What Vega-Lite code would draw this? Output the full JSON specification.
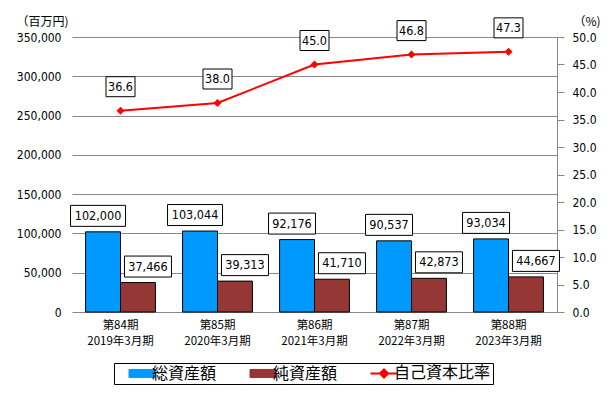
{
  "$schema": "https://vega.github.io/schema/vega-lite/v6.json",
  "width": 485,
  "height": 275,
  "autosize": {"type": "none"},
  "padding": {"left": 72, "top": 37, "right": 57, "bottom": 83},
  "background": "white",
  "datasets": {
    "bars": [
      {"cat": "第84期 2019年3月期", "series": "総資産額", "value": 102000},
      {"cat": "第84期 2019年3月期", "series": "純資産額", "value": 37466},
      {"cat": "第85期 2020年3月期", "series": "総資産額", "value": 103044},
      {"cat": "第85期 2020年3月期", "series": "純資産額", "value": 39313},
      {"cat": "第86期 2021年3月期", "series": "総資産額", "value": 92176},
      {"cat": "第86期 2021年3月期", "series": "純資産額", "value": 41710},
      {"cat": "第87期 2022年3月期", "series": "総資産額", "value": 90537},
      {"cat": "第87期 2022年3月期", "series": "純資産額", "value": 42873},
      {"cat": "第88期 2023年3月期", "series": "総資産額", "value": 93034},
      {"cat": "第88期 2023年3月期", "series": "純資産額", "value": 44667}
    ],
    "ratio": [
      {"cat": "第84期 2019年3月期", "series": "自己資本比率", "ratio": 36.6},
      {"cat": "第85期 2020年3月期", "series": "自己資本比率", "ratio": 38.0},
      {"cat": "第86期 2021年3月期", "series": "自己資本比率", "ratio": 45.0},
      {"cat": "第87期 2022年3月期", "series": "自己資本比率", "ratio": 46.8},
      {"cat": "第88期 2023年3月期", "series": "自己資本比率", "ratio": 47.3}
    ]
  },
  "config": {
    "view": {"stroke": null},
    "axis": {
      "labelFont": "DejaVu Sans Condensed, Liberation Sans",
      "labelFontSize": 12,
      "labelColor": "black",
      "titleColor": "black"
    },
    "text": {"font": "DejaVu Sans Condensed, Liberation Sans", "fontSize": 12.5, "color": "black"},
    "legend": {
      "title": null, "orient": "none", "legendX": 42, "legendY": 326,
      "direction": "horizontal", "columns": 3, "padding": 2,
      "strokeColor": "black", "symbolSize": 729,
      "symbolOffset": 18, "labelOffset": 2, "columnPadding": 20,
      "labelFont": "Noto Sans CJK JP", "labelFontSize": 16, "labelColor": "black"
    }
  },
  "layer": [
    {
      "data": {"name": "bars"},
      "encoding": {
        "x": {
          "field": "cat", "type": "nominal", "sort": null,
          "scale": {"paddingInner": 0.28, "paddingOuter": 0.14},
          "axis": {
            "title": null, "domain": false, "ticks": false, "labelAngle": 0,
            "labelExpr": "split(datum.label, ' ')",
            "labelFont": "Noto Sans CJK JP", "labelFontSize": 11.5,
            "labelLineHeight": 16.6, "labelPadding": 7, "labelBaseline": "top"
          }
        },
        "xOffset": {"field": "series", "type": "nominal", "sort": ["総資産額", "純資産額"]},
        "y": {
          "field": "value", "type": "quantitative",
          "scale": {"domain": [0, 350000], "nice": false},
          "axis": {
            "values": [0, 50000, 100000, 150000, 200000, 250000, 300000, 350000],
            "format": ",d", "domain": false, "ticks": false, "tickSize": 0,
            "labelPadding": 11, "grid": true, "gridColor": "#888888", "gridWidth": 1,
            "title": "（百万円)", "titleAngle": 0, "titleAlign": "left", "titleBaseline": "middle",
            "titleX": -56, "titleY": -16, "titleFont": "Noto Sans CJK JP",
            "titleFontSize": 12, "titleFontWeight": "normal"
          }
        }
      },
      "layer": [
        {
          "mark": {"type": "bar", "stroke": "black", "strokeWidth": 1},
          "encoding": {
            "color": {
              "field": "series", "type": "nominal",
              "scale": {"domain": ["総資産額", "純資産額", "自己資本比率"], "range": ["#0099FF", "#953735", "#FF0000"]},
              "legend": {
                "labelExpr": "datum.label == '自己資本比率' ? datum.label + '　' : datum.label",
                "encode": {
                  "symbols": {
                    "update": {
                      "shape": {"signal": "datum.value == '自己資本比率' ? 'M-1,0H1M0,-0.3L0.3,0L0,0.3L-0.3,0Z' : 'M-0.963,-0.3H0.963V0.3H-0.963Z'"},
                      "fill": {"signal": "datum.value == '総資産額' ? '#0099FF' : datum.value == '純資産額' ? '#953735' : '#FF0000'"},
                      "stroke": {"signal": "datum.value == '自己資本比率' ? '#FF0000' : 'black'"},
                      "strokeWidth": {"signal": "datum.value == '自己資本比率' ? 2 : 1"},
                      "opacity": {"value": 1}
                    }
                  }
                }
              }
            }
          }
        },
        {
          "transform": [{"filter": "datum.series == '総資産額'"}],
          "mark": {"type": "point", "filled": true, "fill": "white", "stroke": "black", "strokeWidth": 1, "opacity": 1, "size": 4},
          "encoding": {
            "shape": {
              "condition": {"test": "datum.value >= 100000", "value": "M-32.5,-26.5H22.5V-5.5H-32.5Z"},
              "value": "M-28.5,-26.5H18.5V-5.5H-28.5Z"
            }
          }
        },
        {
          "transform": [{"filter": "datum.series == '総資産額'"}],
          "mark": {"type": "text", "dx": -5, "dy": -16, "align": "center", "baseline": "middle"},
          "encoding": {"text": {"field": "value", "type": "quantitative", "format": ","}}
        },
        {
          "transform": [{"filter": "datum.series == '純資産額'"}],
          "mark": {"type": "point", "filled": true, "fill": "white", "stroke": "black", "strokeWidth": 1, "opacity": 1, "size": 4, "shape": "M-13.5,-26.5H33.5V-5.5H-13.5Z"}
        },
        {
          "transform": [{"filter": "datum.series == '純資産額'"}],
          "mark": {"type": "text", "dx": 10, "dy": -16, "align": "center", "baseline": "middle"},
          "encoding": {"text": {"field": "value", "type": "quantitative", "format": ","}}
        }
      ]
    },
    {
      "data": {"name": "ratio"},
      "encoding": {
        "x": {"field": "cat", "type": "nominal", "sort": null},
        "y": {
          "field": "ratio", "type": "quantitative",
          "scale": {"domain": [0, 50], "nice": false},
          "axis": {
            "orient": "right", "values": [0, 5, 10, 15, 20, 25, 30, 35, 40, 45, 50],
            "format": ".1f", "grid": false, "domain": true, "domainColor": "#888888",
            "ticks": true, "tickColor": "#888888", "tickSize": 7, "labelPadding": 8,
            "title": "（%)", "titleAngle": 0, "titleAlign": "left", "titleBaseline": "middle",
            "titleX": 16, "titleY": -16, "titleFont": "Noto Sans CJK JP",
            "titleFontSize": 12, "titleFontWeight": "normal"
          }
        }
      },
      "layer": [
        {
          "mark": {"type": "line", "strokeWidth": 2, "point": {"shape": "diamond", "size": 64, "filled": true}},
          "encoding": {
            "color": {
              "field": "series", "type": "nominal",
              "scale": {"domain": ["総資産額", "純資産額", "自己資本比率"], "range": ["#0099FF", "#953735", "#FF0000"]},
              "legend": {
                "labelExpr": "datum.label == '自己資本比率' ? datum.label + '　' : datum.label",
                "encode": {
                  "symbols": {
                    "update": {
                      "shape": {"signal": "datum.value == '自己資本比率' ? 'M-1,0H1M0,-0.3L0.3,0L0,0.3L-0.3,0Z' : 'M-0.963,-0.3H0.963V0.3H-0.963Z'"},
                      "fill": {"signal": "datum.value == '総資産額' ? '#0099FF' : datum.value == '純資産額' ? '#953735' : '#FF0000'"},
                      "stroke": {"signal": "datum.value == '自己資本比率' ? '#FF0000' : 'black'"},
                      "strokeWidth": {"signal": "datum.value == '自己資本比率' ? 2 : 1"},
                      "opacity": {"value": 1}
                    }
                  }
                }
              }
            }
          }
        },
        {
          "mark": {"type": "point", "filled": true, "fill": "white", "stroke": "black", "strokeWidth": 1, "opacity": 1, "size": 4, "shape": "M-14.5,-34H14.5V-14H-14.5Z"}
        },
        {
          "mark": {"type": "text", "dy": -24, "align": "center", "baseline": "middle"},
          "encoding": {"text": {"field": "ratio", "type": "quantitative", "format": ".1f"}}
        }
      ]
    }
  ],
  "resolve": {"scale": {"y": "independent"}}
}
